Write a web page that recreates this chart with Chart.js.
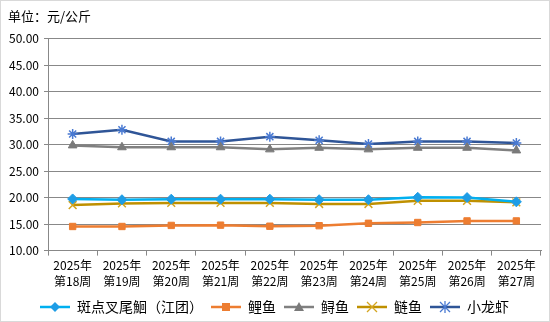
<!DOCTYPE html>
<html>
<head>
<meta charset="utf-8">
<script src="https://cdn.jsdelivr.net/npm/chart.js@4/dist/chart.umd.min.js"></script>
<style>
  html, body { margin: 0; padding: 0; background: #fff; }
  #wrap { width: 550px; height: 322px; box-sizing: border-box; border: 1px solid #d9d9d9; }
</style>
</head>
<body>
<div id="wrap"><canvas id="myChart" width="548" height="320"></canvas></div>
<script>
// 周次
const weeks = [
  ["2025年", "第18周"], ["2025年", "第19周"], ["2025年", "第20周"], ["2025年", "第21周"], ["2025年", "第22周"],
  ["2025年", "第23周"], ["2025年", "第24周"], ["2025年", "第25周"], ["2025年", "第26周"], ["2025年", "第27周"]
];

// 价格 (元/公斤)
const channelCatfish = [19.75, 19.6, 19.7, 19.7, 19.7, 19.6, 19.6, 20.05, 20.0, 19.2];
const commonCarp = [14.55, 14.55, 14.75, 14.8, 14.6, 14.7, 15.15, 15.3, 15.6, 15.6];
const sturgeon = [29.85, 29.5, 29.5, 29.5, 29.1, 29.4, 29.1, 29.4, 29.4, 28.9];
const silverCarp = [18.6, 18.9, 19.0, 19.0, 19.0, 18.8, 18.8, 19.4, 19.4, 19.1];
const crayfish = [32.0, 32.8, 30.6, 30.6, 31.5, 30.8, 30.1, 30.6, 30.6, 30.3];

const yTicks = { min: 10, max: 50, step: 5 };

// legend icon: line with marker in the middle
function legendIcon(lineColor, markColor, style) {
  const c = document.createElement("canvas");
  c.width = 30; c.height = 12;
  const g = c.getContext("2d");
  g.strokeStyle = lineColor; g.lineWidth = 2.5;
  g.beginPath(); g.moveTo(0, 6); g.lineTo(30, 6); g.stroke();
  g.fillStyle = markColor; g.strokeStyle = markColor; g.lineWidth = 1.3;
  g.beginPath();
  if (style === "diamond") {
    g.moveTo(15, 1); g.lineTo(20, 6); g.lineTo(15, 11); g.lineTo(10, 6); g.closePath(); g.fill();
  } else if (style === "square") {
    g.fillRect(11, 2, 8, 8);
  } else if (style === "triangle") {
    g.moveTo(15, 1); g.lineTo(20, 10); g.lineTo(10, 10); g.closePath(); g.fill();
  } else if (style === "x") {
    g.moveTo(10, 1); g.lineTo(20, 11); g.moveTo(20, 1); g.lineTo(10, 11); g.stroke();
  } else if (style === "star") {
    g.moveTo(10, 1); g.lineTo(20, 11); g.moveTo(20, 1); g.lineTo(10, 11);
    g.moveTo(15, 0); g.lineTo(15, 12); g.stroke();
  }
  return c;
}

const series = [
  { label: "斑点叉尾鮰（江团）", data: channelCatfish, line: "#00B0F0", mark: "#1E9DE6", style: "rectRot", icon: "diamond", r: 5 },
  { label: "鲤鱼", data: commonCarp, line: "#ED7D31", mark: "#ED7D31", style: "rect", icon: "square", r: 4.5 },
  { label: "鲟鱼", data: sturgeon, line: "#808080", mark: "#7A7A7A", style: "triangle", icon: "triangle", r: 5 },
  { label: "鲢鱼", data: silverCarp, line: "#BF9000", mark: "#D4A520", style: "crossRot", icon: "x", r: 5.5 },
  { label: "小龙虾", data: crayfish, line: "#2F5597", mark: "#4A7AD2", style: "star", icon: "star", r: 5 }
];

const datasets = series.map(s => ({
  label: s.label,
  data: s.data,
  borderColor: s.line,
  backgroundColor: s.mark,
  borderWidth: 2.5,
  pointStyle: s.style,
  pointRadius: s.r,
  pointHoverRadius: s.r,
  pointBackgroundColor: s.mark,
  pointBorderColor: s.mark,
  pointBorderWidth: (s.style === "crossRot" || s.style === "star") ? 1.5 : 1,
  tension: 0,
  legendIcon: legendIcon(s.line, s.mark, s.icon)
}));

const font = "'Noto Sans CJK SC', 'DejaVu Sans', sans-serif";

new Chart(document.getElementById("myChart"), {
  type: "line",
  data: { labels: weeks, datasets: datasets },
  options: {
    responsive: false,
    animation: false,
    layout: { padding: { left: 7, right: 8, top: 0, bottom: -3 } },
    scales: {
      x: {
        offset: true,
        grid: { offset: true, drawOnChartArea: false, drawTicks: true, tickLength: 5, color: "#888" },
        border: { color: "#888" },
        ticks: { color: "#000", font: { family: font, size: 12, lineHeight: 1.35 }, padding: 2, maxRotation: 0, autoSkip: false }
      },
      y: {
        min: yTicks.min,
        max: yTicks.max,
        grid: { color: "#888", tickLength: 4 },
        border: { color: "#888" },
        ticks: {
          stepSize: yTicks.step,
          color: "#000",
          padding: 5,
          font: { family: font, size: 12 },
          callback: v => v.toFixed(2)
        },
        afterFit: s => { s.width = 40; }
      }
    },
    plugins: {
      title: {
        display: true,
        text: "单位：元/公斤",
        align: "start",
        color: "#000",
        font: { family: font, size: 13, weight: "normal" },
        padding: { top: 7, bottom: 15 }
      },
      legend: {
        position: "bottom",
        labels: {
          usePointStyle: true,
          pointStyleWidth: 30,
          padding: 8,
          color: "#000",
          font: { family: font, size: 14 },
          generateLabels: chart => chart.data.datasets.map((d, i) => ({
            text: d.label,
            pointStyle: d.legendIcon,
            fillStyle: d.borderColor,
            strokeStyle: d.borderColor,
            lineWidth: 0,
            hidden: false,
            datasetIndex: i
          }))
        }
      },
      tooltip: { enabled: false }
    }
  }
});
</script>
</body>
</html>
